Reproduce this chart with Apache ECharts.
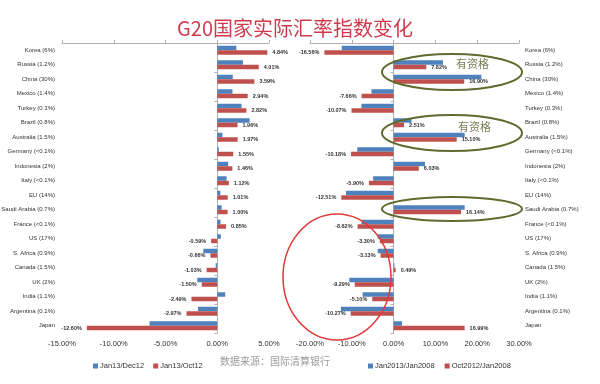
<!DOCTYPE html>
<html><head><meta charset="utf-8">
<script src="https://cdn.jsdelivr.net/npm/echarts@6/dist/echarts.min.js"></script>
<style>html,body{margin:0;padding:0;background:#fff}#c{width:600px;height:384px}</style>
</head><body><div id="c"></div>
<script>
const categories = ['Korea (6%)','Russia (1.2%)','China (30%)','Mexico (1.4%)','Turkey (0.3%)','Brazil (0.8%)','Australia (1.5%)','Germany (<0.1%)','Indonesia (2%)','Italy (<0.1%)','EU (14%)','Saudi Arabia (0.7%)','France (<0.1%)','US (17%)','S. Africa (0.9%)','Canada (1.5%)','UK (2%)','India (1.1%)','Argentina (0.1%)','Japan'];
const leftBlueName = 'Jan13/Dec12';
const leftRedName = 'Jan13/Oct12';
const rightBlueName = 'Jan2013/Jan2008';
const rightRedName = 'Oct2012/Jan2008';
const leftBlue = [1.84, 2.48, 1.50, 1.47, 2.35, 3.12, 0.50, 0.15, 1.06, 0.90, 0.30, 0.42, 0.32, 0.35, -1.35, -0.15, -1.93, 0.77, -1.87, -6.54];
const leftRed  = [4.84, 4.01, 3.59, 2.94, 2.82, 1.96, 1.97, 1.55, 1.46, 1.12, 1.01, 1.00, 0.85, -0.59, -0.66, -1.03, -1.50, -2.49, -2.97, -12.60];
const rightBlue = [-12.4, 11.8, 21.0, -5.3, -7.7, 4.3, 17.0, -8.7, 7.5, -4.9, -11.4, 17.0, -7.7, -3.8, -3.8, 0.2, -10.6, -7.4, -12.6, 2.0];
const rightRed  = [-16.56, 7.82, 16.90, -7.66, -10.07, 2.51, 15.10, -10.18, 6.03, -5.90, -12.51, 16.14, -8.62, -3.30, -3.13, 0.49, -9.29, -5.10, -10.27, 16.99];
const leftRange = {min: -15, max: 5, interval: 5};
const rightRange = {min: -20, max: 30, interval: 10};

const BLUE = '#4f81bd', RED = '#c0504d';
const FONT = 'Liberation Sans';
const pct = v => v.toFixed(2) + '%';

function labelled(arr) {
  return arr.map(v => ({value: v, label: {position: v >= 0 ? 'right' : 'left'}}));
}
function valueAxes(grid, r) {
  return [
    {gridIndex: grid, type: 'value', position: 'bottom', min: r.min, max: r.max, interval: r.interval,
     axisLine: {show: false}, axisTick: {show: false}, splitLine: {show: false},
     axisLabel: {formatter: pct, fontSize: 7.5, color: '#333', margin: 7, fontFamily: FONT}},
    {gridIndex: grid, type: 'value', position: 'top', min: r.min, max: r.max, interval: r.interval,
     axisLine: {show: true, lineStyle: {color: '#b0b0b0', width: 1}}, axisTick: {show: true, length: 3, lineStyle: {color: '#b0b0b0'}},
     splitLine: {show: false}, axisLabel: {show: false}}
  ];
}
function catAxes(grid, side, xIdx) {
  return [
    {gridIndex: grid, type: 'category', inverse: true, data: categories, position: side,
     axisLine: {show: false, onZero: false}, axisTick: {show: false},
     axisLabel: {fontSize: 6, color: '#333', margin: side === 'left' ? 7 : 6, fontFamily: FONT}},
    {gridIndex: grid, type: 'category', inverse: true, data: categories, position: 'left',
     axisLine: {show: true, onZero: true, onZeroAxisIndex: xIdx, lineStyle: {color: '#b0b0b0', width: 1}},
     axisTick: {show: true, length: 3, lineStyle: {color: '#b0b0b0'}}, axisLabel: {show: false}}
  ];
}
const redLabel = {show: true, formatter: p => pct(p.value), fontSize: 5.5, color: '#333', distance: 5, fontFamily: FONT, fontWeight: 'bold'};

const option = {
  animation: false,
  backgroundColor: '#fff',
  title: {text: 'G20国家实际汇率指数变化', left: 172, top: 13,
    textStyle: {fontSize: 20, fontWeight: 'normal', color: '#d13a4e', fontFamily: 'Noto Sans CJK SC'}},
  grid: [
    {left: 62, top: 43, width: 207, height: 290, outerBoundsMode: 'none', containLabel: false},
    {left: 310, top: 43, width: 209, height: 290, outerBoundsMode: 'none', containLabel: false}
  ],
  xAxis: [...valueAxes(0, leftRange), ...valueAxes(1, rightRange)],
  yAxis: [...catAxes(0, 'left', 0), ...catAxes(1, 'right', 2)],
  legend: [
    {data: [leftBlueName, leftRedName], left: 88, top: 357, icon: 'rect', itemWidth: 5, itemHeight: 5, itemGap: 9,
     textStyle: {fontSize: 7.5, color: '#333', fontFamily: FONT, padding: [0, 0, 0, -3]}},
    {data: [rightBlueName, rightRedName], left: 363, top: 357, icon: 'rect', itemWidth: 5, itemHeight: 5, itemGap: 10,
     textStyle: {fontSize: 7.5, color: '#333', fontFamily: FONT, padding: [0, 0, 0, -3]}}
  ],
  series: [
    {type: 'bar', name: leftBlueName, xAxisIndex: 0, yAxisIndex: 0, data: leftBlue, itemStyle: {color: BLUE}, barWidth: 4.5, barGap: '0%'},
    {type: 'bar', name: leftRedName, xAxisIndex: 0, yAxisIndex: 0, data: labelled(leftRed), itemStyle: {color: RED}, barWidth: 4.5, barGap: '0%', label: redLabel},
    {type: 'bar', name: rightBlueName, xAxisIndex: 2, yAxisIndex: 2, data: rightBlue, itemStyle: {color: BLUE}, barWidth: 4.5, barGap: '0%'},
    {type: 'bar', name: rightRedName, xAxisIndex: 2, yAxisIndex: 2, data: labelled(rightRed), itemStyle: {color: RED}, barWidth: 4.5, barGap: '0%', label: redLabel}
  ],
  graphic: [
    {type: 'text', left: 220, top: 356, style: {text: '数据来源：国际清算银行', fill: '#9a9a9a', font: '10px "Noto Sans CJK SC"'}},
    {type: 'ellipse', shape: {cx: 452, cy: 72, rx: 70, ry: 18}, style: {fill: 'none', stroke: '#5f6b2e', lineWidth: 2}, z: 100},
    {type: 'ellipse', shape: {cx: 452, cy: 133, rx: 70, ry: 18}, style: {fill: 'none', stroke: '#5f6b2e', lineWidth: 2}, z: 100},
    {type: 'ellipse', shape: {cx: 452, cy: 209, rx: 70, ry: 12}, style: {fill: 'none', stroke: '#5f6b2e', lineWidth: 2}, z: 100},
    {type: 'ellipse', shape: {cx: 337, cy: 277, rx: 54, ry: 63}, style: {fill: 'none', stroke: '#e03a3a', lineWidth: 1.5}, z: 100},
    {type: 'text', left: 456, top: 58, style: {text: '有资格', fill: '#7a7d55', font: '11px "Noto Sans CJK SC"'}, z: 100},
    {type: 'text', left: 458, top: 121, style: {text: '有资格', fill: '#7a7d55', font: '11px "Noto Sans CJK SC"'}, z: 100}
  ]
};
echarts.init(document.getElementById('c'), null, {renderer: 'canvas'}).setOption(option);
</script>
</body></html>
